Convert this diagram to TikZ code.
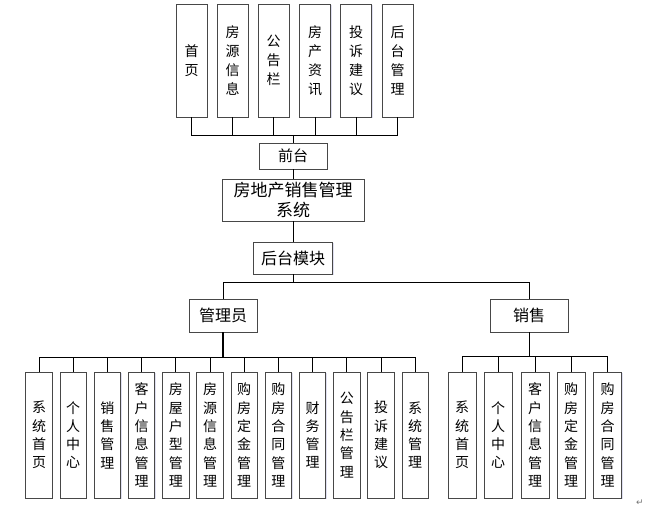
\documentclass[tikz,border=0pt]{standalone}
\usepackage{fontspec}
\setmainfont{Noto Sans CJK SC}
\newfontfamily\symfont{DejaVu Sans}
\usetikzlibrary{shadows}
\begin{document}
\begin{tikzpicture}[x=1pt,y=-1pt,
  box/.style={draw=black!72,line width=0.9pt,fill=white,inner sep=0pt,align=center,
    drop shadow={shadow xshift=1pt,shadow yshift=-1pt,opacity=0.18,fill=blue!40!gray}},
  topbox/.style={box,minimum width=31pt,minimum height=113pt,font=\fontsize{14}{19}\selectfont},
  subbox/.style={box,minimum width=26.5pt,minimum height=126pt,font=\fontsize{14}{18.3}\selectfont},
  sbox/.style={box,minimum width=28pt,minimum height=126pt,font=\fontsize{14}{18.3}\selectfont},
  conn/.style={draw=black,line width=0.9pt},
  bold/.style={draw=black,line width=1.8pt}]
\useasboundingbox (0,0) rectangle (655,510);
% top row
\node[topbox] (t1) at (191.5,60.5) {首\\页};
\node[topbox] (t2) at (232.5,60.5) {房\\源\\信\\息};
\node[topbox] (t3) at (273.5,60.5) {公\\告\\栏};
\node[topbox] (t4) at (315,60.5) {房\\产\\资\\讯};
\node[topbox] (t5) at (356,60.5) {投\\诉\\建\\议};
\node[topbox] (t6) at (397.5,60.5) {后\\台\\管\\理};
\coordinate (tbus) at (293,135);
\node[box,minimum width=68pt,minimum height=26pt,font=\fontsize{15}{18}\selectfont] (qian) at (293,156) {前台};
\node[box,minimum width=142pt,minimum height=42pt,font=\fontsize{17}{20}\selectfont] (main) at (293,200) {房地产销售管理\\系统};
\node[box,minimum width=79pt,minimum height=32pt,font=\fontsize{16}{18}\selectfont] (hou) at (293,258) {后台模块};
\coordinate (hbus) at (293,282);
\node[box,minimum width=68pt,minimum height=33pt,font=\fontsize{16}{18}\selectfont] (admin) at (223,315.5) {管理员};
\node[box,minimum width=78pt,minimum height=33pt,font=\fontsize{16}{18}\selectfont] (sales) at (529,315.5) {销售};
\coordinate (abus) at (223,357);
\coordinate (sbus) at (529,356);
% admin children
\node[subbox] (a1) at (39,435) {系\\统\\首\\页};
\node[subbox] (a2) at (73.2,435) {个\\人\\中\\心};
\node[subbox] (a3) at (107.4,435) {销\\售\\管\\理};
\node[subbox] (a4) at (141.6,435) {客\\户\\信\\息\\管\\理};
\node[subbox] (a5) at (175.8,435) {房\\屋\\户\\型\\管\\理};
\node[subbox] (a6) at (210,435) {房\\源\\信\\息\\管\\理};
\node[subbox] (a7) at (244.2,435) {购\\房\\定\\金\\管\\理};
\node[subbox] (a8) at (278.4,435) {购\\房\\合\\同\\管\\理};
\node[subbox] (a9) at (312.6,435) {财\\务\\管\\理};
\node[subbox] (a10) at (346.8,435) {公\\告\\栏\\管\\理};
\node[subbox] (a11) at (381,435) {投\\诉\\建\\议};
\node[subbox] (a12) at (415.2,435) {系\\统\\管\\理};
% sales children
\node[sbox] (s1) at (462,435) {系\\统\\首\\页};
\node[sbox] (s2) at (498,435) {个\\人\\中\\心};
\node[sbox] (s3) at (535,435) {客\\户\\信\\息\\管\\理};
\node[sbox] (s4) at (571,435) {购\\房\\定\\金\\管\\理};
\node[sbox] (s5) at (607.5,435) {购\\房\\合\\同\\管\\理};
% connectors
\foreach \i in {1,...,6} \draw[conn] (t\i.south) |- (tbus);
\draw[conn] (tbus) -- (qian.north);
\draw[conn] (qian.south) -- (main.north);
\draw[conn] (main.south) -- (hou.north);
\draw[conn] (hou.south) -- (hbus);
\draw[conn] (hbus) -| (admin.north);
\draw[conn] (hbus) -| (sales.north);
\draw[bold] (admin.south) -- (abus);
\foreach \i in {1,...,12} \draw[conn] (abus) -| (a\i.north);
\draw[conn] (sales.south) -- (sbus);
\foreach \i in {1,...,5} \draw[conn] (sbus) -| (s\i.north);
\node[font=\symfont\fontsize{9}{9}\selectfont,text=black!55,inner sep=0pt] (ret) at (640,503) {↵};
\end{tikzpicture}
\end{document}
